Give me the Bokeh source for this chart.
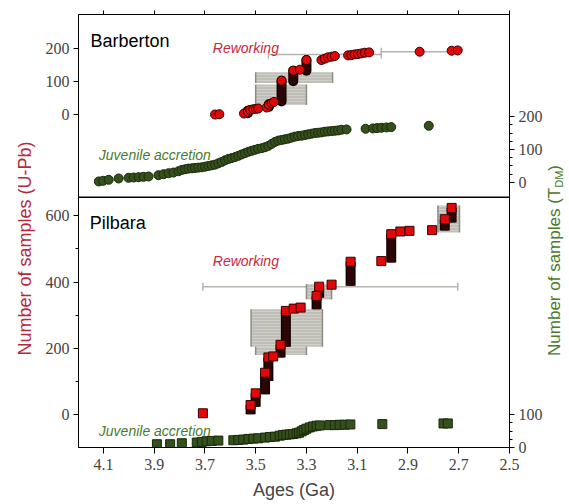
import math
from bokeh.plotting import figure
from bokeh.layouts import row
from bokeh.models import (Range1d, LinearAxis, FixedTicker, Span, Label, Title, Div,
                          ColumnDataSource, Whisker, TeeHead, CustomLabelingPolicy)
from bokeh.embed import file_html
from bokeh.resources import INLINE

# ---------------- data ----------------
# Barberton, reworking (U-Pb, cumulative number of samples)
brb_rw_age = [3.660, 3.643, 3.546, 3.531, 3.522, 3.509, 3.499, 3.490, 3.457, 3.448,
              3.437, 3.428, 3.326, 3.241, 3.228, 3.215, 3.201, 3.188, 3.136, 3.123,
              3.110, 3.097, 3.083, 3.070, 3.053, 2.854, 2.728, 2.704]
brb_rw_n = [1, 2, 4, 9, 15, 17, 18, 19, 22, 30,
            35, 39, 136, 165, 169, 173, 175, 177, 179, 180,
            182, 183, 185, 187, 188, 190, 193, 194]
# Barberton, stacks of samples with identical age (age, first, last)
brb_stk_age = [3.531, 3.448, 3.398, 3.352, 3.300]
brb_stk_lo = [5, 24, 40, 101, 133]
brb_stk_hi = [12, 32, 103, 133, 165]
# Barberton, age uncertainties
brb_box_old = [3.500, 3.500]
brb_box_young = [3.300, 3.197]
brb_box_lo = [30, 96]
brb_box_hi = [91, 128]
brb_bar_old = [3.450, 3.005]
brb_bar_young = [3.005, 2.704]
brb_bar_n = [182, 190]
# Barberton, juvenile accretion (T_DM)
brb_ja_age = [4.118, 4.101, 4.079, 4.040, 4.001, 3.981, 3.961, 3.942, 3.922, 3.883,
              3.863, 3.843, 3.824, 3.804, 3.791, 3.778, 3.765, 3.751, 3.739, 3.726,
              3.712, 3.699, 3.686, 3.673, 3.660, 3.647, 3.634, 3.621, 3.608, 3.594,
              3.581, 3.568, 3.555, 3.542, 3.529, 3.516, 3.503, 3.490, 3.476, 3.463,
              3.450, 3.437, 3.424, 3.411, 3.398, 3.385, 3.372, 3.359, 3.346, 3.333,
              3.319, 3.306, 3.293, 3.280, 3.267, 3.254, 3.241, 3.228, 3.215, 3.201,
              3.188, 3.175, 3.162, 3.142, 3.067, 3.038, 3.022, 3.005, 2.985, 2.966,
              2.818]
brb_ja_n = [3, 5, 8, 12, 14, 15, 16, 17, 18, 22,
            25, 28, 30, 34, 38, 40, 42, 43, 44, 45,
            46, 48, 50, 52, 54, 58, 62, 67, 71, 74,
            77, 81, 85, 89, 93, 96, 99, 102, 104, 107,
            111, 117, 123, 127, 129, 131, 133, 136, 139, 141,
            142, 144, 146, 148, 150, 151, 152, 154, 155, 156,
            157, 158, 160, 161, 163, 164, 165, 166, 167, 168,
            172]

# Pilbara, reworking (U-Pb)
pil_rw_age = [3.708, 3.431, 3.350, 3.323, 3.201, 3.005, 2.930, 2.894, 2.805]
pil_rw_n = [5, 176, 320, 323, 392, 463, 552, 554, 556]
pil_stk_age = [3.520, 3.500, 3.463, 3.450, 3.402, 3.381, 3.260, 3.250, 3.126, 2.966, 2.755, 2.728]
pil_stk_lo = [2, 25, 62, 102, 173, 205, 318, 353, 389, 459, 555, 579]
pil_stk_hi = [30, 65, 127, 173, 211, 313, 358, 386, 461, 544, 589, 623]
pil_box_old = [3.518, 3.500, 3.300, 2.782]
pil_box_young = [3.237, 3.300, 3.201, 2.697]
pil_box_lo = [205, 180, 348, 549]
pil_box_hi = [318, 205, 394, 630]
pil_bar_old = [3.708]
pil_bar_young = [2.704]
pil_bar_n = [386]
# Pilbara, juvenile accretion (T_DM)
pil_ja_age = [3.889, 3.837, 3.791, 3.732, 3.712, 3.693, 3.673, 3.647, 3.588, 3.568,
              3.549, 3.529, 3.509, 3.490, 3.463, 3.444, 3.424, 3.405, 3.392, 3.379,
              3.365, 3.352, 3.339, 3.329, 3.319, 3.310, 3.300, 3.287, 3.274, 3.260,
              3.247, 3.208, 3.188, 3.169, 3.149, 3.127, 3.001, 2.760, 2.743]
pil_ja_n = [10, 10, 13, 15, 17, 19, 20, 21, 22, 23,
            24, 26, 27, 28, 30, 32, 33, 36, 38, 39,
            40, 41, 43, 45, 49, 53, 57, 61, 64, 66,
            67, 68, 68, 69, 69, 70, 71, 73, 73]

# ticks
x_ticks = [4.1, 3.9, 3.7, 3.5, 3.3, 3.1, 2.9, 2.7, 2.5]
upb_bot_ticks = [0, 200, 400, 600]
upb_bot_minor = [100, 300, 500]
upb_top_ticks = [0, 100, 200]
tdm_bot_ticks = [0, 100]
tdm_bot_minor = [25, 50, 75]
tdm_top_ticks = [0, 100, 200]
tdm_top_minor = [25, 50, 75, 125, 150, 175]

# ---------------- layout constants ----------------
X_START, X_END = 4.198, 2.5
UPB_START, UPB_END = -98, 1205
UPB_TOP_SHIFT = 903
TDM_START, TDM_END = 0, 1315
TDM_TOP_SHIFT = 805
PANEL_SPLIT = 655

TICK_FONT = "Liberation Sans Narrow"
FONT = "Liberation Sans"
RED_TXT = "#c8283c"
RED_AXIS = "#b8283c"
GREEN_TXT = "#4a7a2a"
RED_FILL = "#e00808"
RED_LINE = "#3a0000"
STACK = "#2b0606"
GREEN_FILL = "#34501c"
GREEN_LINE = "#1a2a0a"
ERR = "#b4b4ac"
ERR_CAP = "#8c8c84"

p = figure(frame_width=431, frame_height=433,
           x_range=Range1d(X_START, X_END), y_range=Range1d(UPB_START, UPB_END),
           output_backend="svg", toolbar_location=None,
           min_border_left=78, min_border_right=34, min_border_top=14, min_border_bottom=0)
p.extra_y_ranges = {
    "upb_top": Range1d(UPB_START - UPB_TOP_SHIFT, UPB_END - UPB_TOP_SHIFT),
    "tdm_bot": Range1d(TDM_START, TDM_END),
    "tdm_top": Range1d(TDM_START - TDM_TOP_SHIFT, TDM_END - TDM_TOP_SHIFT),
}
p.xgrid.visible = False
p.ygrid.visible = False
p.outline_line_color = "black"
p.outline_line_width = 1
p.background_fill_color = "white"
p.border_fill_color = "white"

# bottom x axis
xa = p.below[0]
xa.ticker = FixedTicker(ticks=x_ticks)
xa.axis_label = "Ages (Ga)"
xa.axis_label_text_font = FONT
xa.axis_label_text_font_size = "18px"
xa.axis_label_text_font_style = "normal"
xa.axis_label_standoff = 7
xa.major_label_text_font = TICK_FONT
xa.major_label_text_font_size = "16px"
xa.major_label_standoff = 5
xa.major_tick_out = 6
xa.major_tick_in = 0
xa.minor_tick_out = 0
xa.minor_tick_in = 0

# left axis: U-Pb (bottom panel ticks + top panel ticks)
ya = p.left[0]
ya.ticker = FixedTicker(ticks=upb_bot_ticks + [t + UPB_TOP_SHIFT for t in upb_top_ticks],
                        minor_ticks=upb_bot_minor)
ya.major_label_overrides = {t + UPB_TOP_SHIFT: str(t) for t in upb_top_ticks}
ya.major_label_text_font = TICK_FONT
ya.major_label_text_font_size = "16px"
ya.major_label_standoff = 4
ya.major_tick_out = 5
ya.major_tick_in = 0
ya.minor_tick_out = 3
ya.minor_tick_in = 0

# left title spanning both panels
p.add_layout(Title(text="Number of samples (U-Pb)", align="left", offset=92, standoff=16,
                   text_font=FONT, text_font_size="18px", text_font_style="normal",
                   text_color=RED_AXIS), "left")

# right axis: T_DM
ra = LinearAxis(y_range_name="tdm_bot",
                ticker=FixedTicker(ticks=tdm_bot_ticks + [t + TDM_TOP_SHIFT for t in tdm_top_ticks],
                                   minor_ticks=tdm_bot_minor + [t + TDM_TOP_SHIFT for t in tdm_top_minor]),
                major_label_overrides={t + TDM_TOP_SHIFT: str(t) for t in tdm_top_ticks},
                major_label_text_font=TICK_FONT, major_label_text_font_size="16px",
                major_label_standoff=4, major_tick_out=5, major_tick_in=0,
                minor_tick_out=3, minor_tick_in=0)
p.add_layout(ra, "right")

# top axis: tick marks only, no labels
ta = LinearAxis(ticker=FixedTicker(ticks=x_ticks), major_label_text_font_size="0px",
                major_label_policy=CustomLabelingPolicy(code="return new Set()"),
                major_label_standoff=0, major_tick_out=4, major_tick_in=0,
                minor_tick_out=0, minor_tick_in=0)
p.add_layout(ta, "above")

p.add_layout(Span(location=PANEL_SPLIT, dimension="width", line_color="black", line_width=1.5))


def uncertainties(old, young, lo, hi, bar_old, bar_young, bar_n, rng):
    src = ColumnDataSource(dict(old=old, young=young, lo=lo, hi=hi))
    p.quad(left="old", right="young", bottom="lo", top="hi", source=src, y_range_name=rng,
           fill_color="#b8b8b0", fill_alpha=0.9, line_color=None,
           hatch_pattern="horizontal_line", hatch_color="#d0d0c8", hatch_scale=3, hatch_weight=1)
    p.segment(x0="old", x1="old", y0="lo", y1="hi", source=src, y_range_name=rng,
              line_color=ERR_CAP, line_width=1.5)
    p.segment(x0="young", x1="young", y0="lo", y1="hi", source=src, y_range_name=rng,
              line_color=ERR_CAP, line_width=1.5)
    bsrc = ColumnDataSource(dict(old=bar_old, young=bar_young, n=bar_n))
    w = Whisker(source=bsrc, base="n", lower="old", upper="young", dimension="width",
                y_range_name=rng, line_color=ERR, line_width=1.5,
                lower_head=TeeHead(size=8, line_color=ERR, line_width=1.5),
                upper_head=TeeHead(size=8, line_color=ERR, line_width=1.5))
    p.add_layout(w)


uncertainties(brb_box_old, brb_box_young, brb_box_lo, brb_box_hi,
              brb_bar_old, brb_bar_young, brb_bar_n, "upb_top")
uncertainties(pil_box_old, pil_box_young, pil_box_lo, pil_box_hi,
              pil_bar_old, pil_bar_young, pil_bar_n, "default")

# juvenile accretion
p.scatter(brb_ja_age, brb_ja_n, y_range_name="tdm_top", marker="circle", size=9,
          fill_color=GREEN_FILL, line_color=GREEN_LINE, line_width=1)
p.scatter(pil_ja_age, pil_ja_n, y_range_name="tdm_bot", marker="square", size=9,
          fill_color=GREEN_FILL, line_color=GREEN_LINE, line_width=1)

# reworking stacks
for ages, lo, hi, rng, cap, marker in [
        (brb_stk_age, brb_stk_lo, brb_stk_hi, "upb_top", "round", "circle"),
        (pil_stk_age, pil_stk_lo, pil_stk_hi, "default", "butt", "square")]:
    s = ColumnDataSource(dict(age=ages, lo=lo, hi=hi))
    p.segment(x0="age", x1="age", y0="lo", y1="hi", source=s, y_range_name=rng,
              line_color="#120000", line_width=10, line_cap=cap)
    p.segment(x0="age", x1="age", y0="lo", y1="hi", source=s, y_range_name=rng,
              line_color=STACK, line_width=7, line_cap=cap)
    p.scatter(x="age", y="hi", source=s, y_range_name=rng, marker=marker, size=9,
              fill_color=RED_FILL, line_color=RED_LINE, line_width=1)

p.scatter(brb_rw_age, brb_rw_n, y_range_name="upb_top", marker="circle", size=9,
          fill_color=RED_FILL, line_color=RED_LINE, line_width=1)
p.scatter(pil_rw_age, pil_rw_n, y_range_name="default", marker="square", size=9,
          fill_color=RED_FILL, line_color=RED_LINE, line_width=1)

# texts
p.add_layout(Label(x=4.151, y=222, y_range_name="upb_top", text="Barberton",
                   text_font=FONT, text_font_size="18px", text_baseline="alphabetic",
                   text_color="black"))
p.add_layout(Label(x=3.669, y=200, y_range_name="upb_top", text="Reworking",
                   text_font=FONT, text_font_size="14px", text_font_style="italic",
                   text_baseline="alphabetic", text_color=RED_TXT))
p.add_layout(Label(x=4.118, y=84, y_range_name="tdm_top", text="Juvenile accretion",
                   text_font=FONT, text_font_size="14px", text_font_style="italic",
                   text_baseline="alphabetic", text_color=GREEN_TXT))
p.add_layout(Label(x=4.154, y=577, text="Pilbara",
                   text_font=FONT, text_font_size="18px", text_baseline="alphabetic",
                   text_color="black"))
p.add_layout(Label(x=3.669, y=462, text="Reworking",
                   text_font=FONT, text_font_size="14px", text_font_style="italic",
                   text_baseline="alphabetic", text_color=RED_TXT))
p.add_layout(Label(x=4.118, y=49, y_range_name="tdm_bot", text="Juvenile accretion",
                   text_font=FONT, text_font_size="14px", text_font_style="italic",
                   text_baseline="alphabetic", text_color=GREEN_TXT))

# right-hand title with subscript, as real HTML text
right_title = Div(
    width=18, height=488,
    text=('<div style="position:relative;width:18px;height:488px;">'
          '<div style="position:absolute;left:-4px;top:160px;writing-mode:vertical-rl;'
          'transform:rotate(180deg);font-family:\'Liberation Sans\';font-size:17px;'
          'color:%s;white-space:nowrap;line-height:1;">'
          'Number of samples (T<sub style="font-size:11px;">DM</sub>)</div></div>') % GREEN_TXT)

layout = row(p, right_title)
open("out.html", "w").write(file_html(layout, INLINE))
